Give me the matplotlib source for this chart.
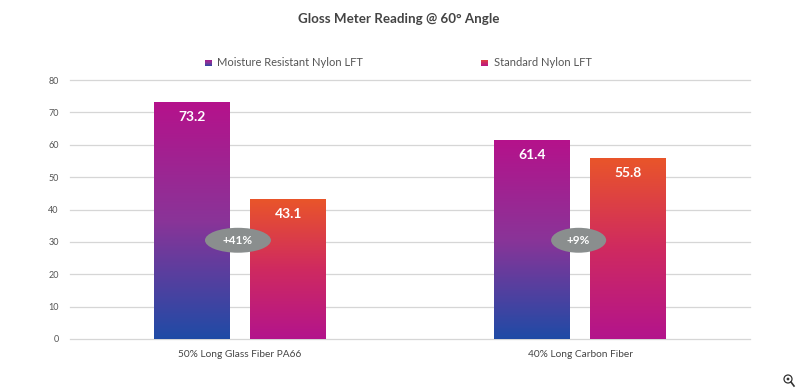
import numpy as np
import matplotlib
matplotlib.use("Agg")
import matplotlib.pyplot as plt
from matplotlib.colors import LinearSegmentedColormap
from matplotlib.patches import Ellipse, Circle
from matplotlib.lines import Line2D

plt.rcParams['font.family'] = ['Lato', 'DejaVu Sans']

categories = ["50% Long Glass Fiber PA66", "40% Long Carbon Fiber"]
series_names = ["Moisture Resistant Nylon LFT", "Standard Nylon LFT"]
moisture = [73.2, 61.4]
standard = [43.1, 55.8]
diff_labels = ["+41%", "+9%"]
diff_y = [30.5, 30.5]
yticks = [0, 10, 20, 30, 40, 50, 60, 70, 80]

W, H = 799, 391
# colores de arriba hacia abajo
cmap_moist = LinearSegmentedColormap.from_list("m", ["#1f4ba6", "#8a3498", "#b5128b"])
cmap_std = LinearSegmentedColormap.from_list("s", ["#b3148c", "#cf2a60", "#e9552a"])
grad = np.linspace(0, 1, 256).reshape(-1, 1)

fig = plt.figure(figsize=(W / 100, H / 100), dpi=100, facecolor="white")
ax = fig.add_axes([70 / W, 1 - 339 / H, 680 / W, 259 / H])
ax.set_xlim(-0.5, 1.5)
ax.set_ylim(0, 80)


def gradient_bars(x, vals, cmap):
	# barra invisible + imagen recortada
	bars = ax.bar(x, vals, width=0.2235, color="none", zorder=2)
	for b in bars:
		x0, y0 = b.get_x(), b.get_y()
		im = ax.imshow(grad, cmap=cmap, origin="lower", aspect="auto", zorder=2,
			extent=[x0, x0 + b.get_width(), y0, y0 + b.get_height()])
		im.set_clip_path(b)


xs = np.arange(len(categories))
gradient_bars(xs - 0.142, moisture, cmap_moist)
gradient_bars(xs + 0.142, standard, cmap_std)
ax.set_xlim(-0.5, 1.5)
ax.set_ylim(0, 80)

for i in xs:
	ax.text(i - 0.142, moisture[i] - 4.6, "%.1f" % moisture[i], color="white", fontsize=10,
		fontweight="bold", ha="center", va="center", zorder=4)
	ax.text(i + 0.142, standard[i] - 4.6, "%.1f" % standard[i], color="white", fontsize=10,
		fontweight="bold", ha="center", va="center", zorder=4)

ell_w = [0.194, 0.162]
ell_x = [-0.006, -0.004]
for i in xs:
	ax.add_patch(Ellipse((i + ell_x[i], diff_y[i]), ell_w[i], 7.7, color="#8a8e8e", lw=0, zorder=3))
	ax.text(i + ell_x[i], diff_y[i], diff_labels[i], color="white", fontsize=8.5, fontweight="bold",
		ha="center", va="center", zorder=4)

ax.set_yticks(yticks)
ax.set_xticks(xs)
ax.set_xticklabels(categories)
ax.tick_params(axis="both", length=0)
ax.tick_params(axis="y", labelsize=6.5, labelcolor="#555555", pad=8)
ax.tick_params(axis="x", labelsize=7.3, labelcolor="#444444", pad=8)
ax.grid(axis="y", color="#d6d6d6", lw=0.9, clip_on=False)
ax.set_axisbelow(True)
for s in ax.spines.values():
	s.set_visible(False)

fig.text(399 / W, 1 - 19 / H, "Gloss Meter Reading @ 60° Angle", ha="center", va="center",
	fontsize=9.6, fontweight="bold", color="#444444")

# leyenda
for name, cmap, sx, tx in zip(series_names, [cmap_moist, cmap_std], [205, 481], [217, 494]):
	sw = fig.add_axes([sx / W, 1 - 66.5 / H, 7 / W, 7 / H])
	sw.imshow(grad, cmap=cmap, origin="lower", aspect="auto", vmin=-0.1, vmax=1.1)
	sw.axis("off")
	fig.text(tx / W, 1 - 63 / H, name, ha="left", va="center", fontsize=8, color="#555555")

# lupa
lupa = fig.add_axes([0, 0, 1, 1], facecolor="none")
lupa.set_xlim(0, W)
lupa.set_ylim(H, 0)
lupa.axis("off")
lupa.add_patch(Circle((788, 379), 4, fill=False, ec="#333333", lw=0.9))
lupa.add_patch(Circle((788, 379), 1.4, color="#333333", lw=0))
lupa.add_line(Line2D([791, 794], [382, 386], color="#333333", lw=1.2))

fig.savefig("out.png", dpi=100)
